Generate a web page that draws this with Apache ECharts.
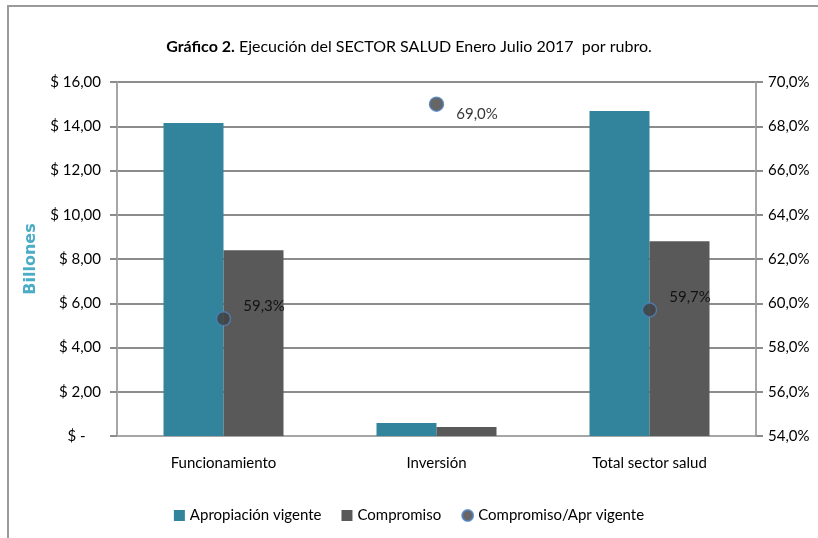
<!DOCTYPE html>
<html>
<head>
<meta charset="utf-8">
<script src="https://cdn.jsdelivr.net/npm/echarts@6/dist/echarts.min.js"></script>
<style>
  html, body { margin: 0; padding: 0; background: #fff; }
  #chart { width: 818px; height: 538px; }
</style>
</head>
<body>
<div id="chart"></div>
<script>
// datos del gráfico
var categorias = ['Funcionamiento', 'Inversión', 'Total sector salud'];
var apropiacion = [14.15, 0.59, 14.69];
var compromiso = [8.40, 0.41, 8.80];
var ejecucion = [59.3, 69.0, 59.7];

var fuente = "Lato, 'Open Sans', sans-serif";

var chart = echarts.init(document.getElementById('chart'));

// desplazamiento de las etiquetas de porcentaje
var desplaz = [[0, -13], [0, 10], [0, -13]];

chart.setOption({
  animation: false,
  textStyle: { fontFamily: fuente },
  graphic: [{
    type: 'polyline',
    shape: { points: [[8, 540], [8, 6], [820, 6]] },
    style: { stroke: '#9a9a9a', lineWidth: 2, fill: null }
  }],
  title: {
    text: '{b|Gráfico 2.} Ejecución del SECTOR SALUD Enero Julio 2017  por rubro.',
    left: 'center',
    top: 34,
    textStyle: {
      rich: {
        b: { fontWeight: 'bold', fontSize: 16, color: '#000', fontFamily: fuente },
      },
      fontWeight: 'normal',
      fontSize: 16,
      color: '#000',
      fontFamily: fuente
    }
  },
  legend: {
    top: 503,
    left: 'center',
    itemWidth: 11,
    itemHeight: 11,
    itemGap: 20,
    textStyle: { fontSize: 15, color: '#000', fontFamily: fuente },
    data: [
      { name: 'Apropiación vigente', icon: 'rect' },
      { name: 'Compromiso', icon: 'rect' },
      { name: 'Compromiso/Apr vigente', icon: 'circle' }
    ]
  },
  grid: { left: 117, right: 62, top: 82, bottom: 102 },
  xAxis: {
    type: 'category',
    data: categorias,
    axisLine: { lineStyle: { color: '#a6a6a6', width: 2 } },
    axisTick: { show: false },
    axisLabel: { color: '#000', fontSize: 15, margin: 20, fontFamily: fuente }
  },
  yAxis: [{
    type: 'value',
    min: 0,
    max: 16,
    interval: 2,
    name: 'Billones',
    nameLocation: 'middle',
    nameGap: 78,
    nameTextStyle: { color: '#4bacc6', fontWeight: 'bold', fontSize: 16, fontFamily: 'DejaVu Sans' },
    axisLine: { show: true, lineStyle: { color: '#a6a6a6', width: 2 } },
    axisTick: { show: true, length: 7, lineStyle: { color: '#8c8c8c', width: 2 } },
    splitLine: { show: true, lineStyle: { color: '#8c8c8c', width: 2 } },
    axisLabel: {
      color: '#000', fontSize: 15, margin: 16, fontFamily: fuente,
      formatter: function (v) {
        if (v === 0) return '$ -    ';
        return '$ ' + v.toFixed(2).replace('.', ',');
      }
    }
  }, {
    type: 'value',
    min: 54,
    max: 70,
    interval: 2,
    position: 'right',
    axisLine: { show: true, lineStyle: { color: '#a6a6a6', width: 2 } },
    axisTick: { show: true, length: 7, lineStyle: { color: '#8c8c8c', width: 2 } },
    splitLine: { show: false },
    axisLabel: {
      color: '#000', fontSize: 15, margin: 12, fontFamily: fuente,
      formatter: function (v) { return v.toFixed(1).replace('.', ',') + '%'; }
    }
  }],
  series: [{
    name: 'Apropiación vigente',
    type: 'bar',
    data: apropiacion,
    barWidth: 60,
    barGap: '0%',
    itemStyle: { color: '#31849b' }
  }, {
    name: 'Compromiso',
    type: 'bar',
    data: compromiso,
    barWidth: 60,
    itemStyle: { color: '#595959' }
  }, {
    name: 'Compromiso/Apr vigente',
    type: 'scatter',
    yAxisIndex: 1,
    symbolSize: 14,
    itemStyle: { color: '#404040', borderColor: '#4f81bd', borderWidth: 1.5 },
    z: 5,
    data: ejecucion.map(function (v, i) {
      return {
        value: v,
        label: {
          show: true,
          position: 'right',
          distance: 12,
          offset: desplaz[i],
          color: '#000',
          fontSize: 15,
          fontFamily: fuente,
          formatter: function (p) { return p.value.toFixed(1).replace('.', ',') + '%'; }
        }
      };
    })
  }]
});
</script>
</body>
</html>
